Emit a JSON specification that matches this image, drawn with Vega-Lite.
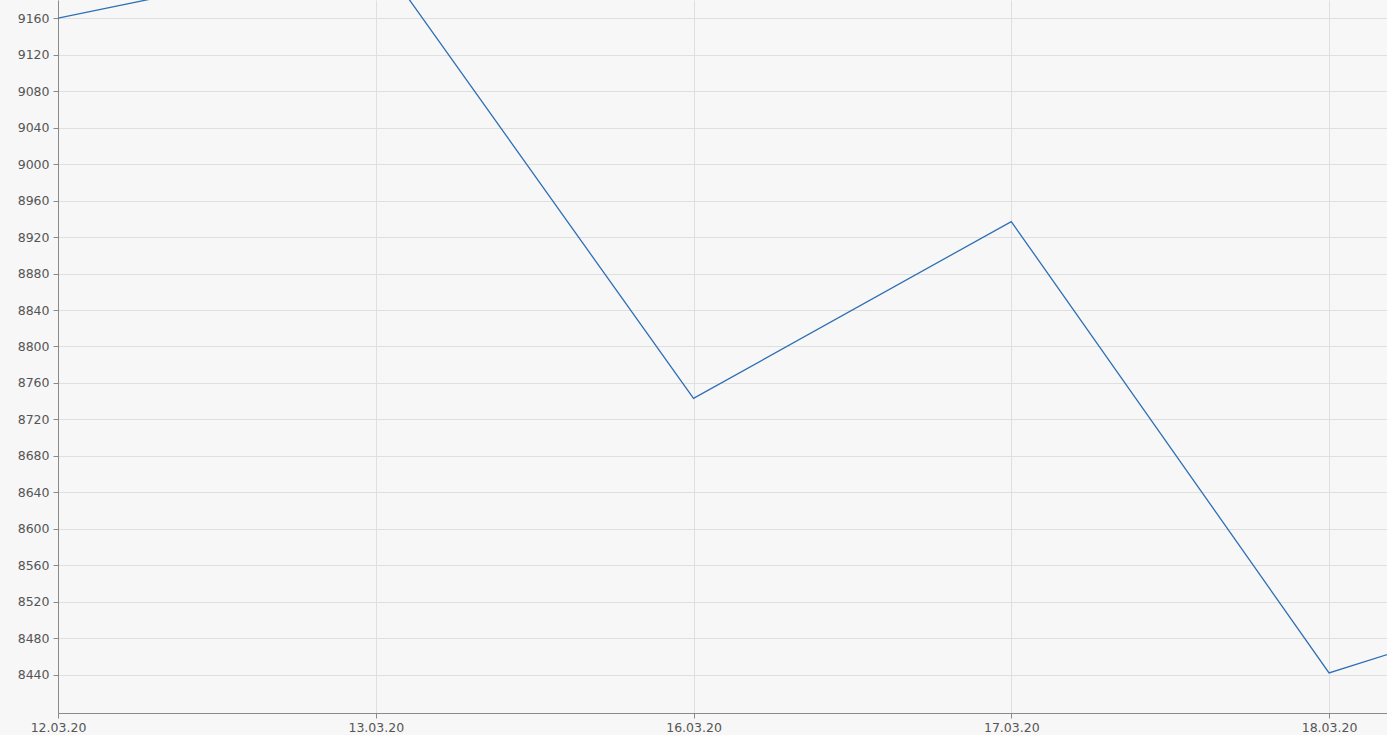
{
  "$schema": "https://vega.github.io/schema/vega-lite/v6.json",
  "width": 1329,
  "height": 713,
  "autosize": "none",
  "padding": {"left": 58, "top": 0, "right": 0, "bottom": 22},
  "background": "#f7f7f7",
  "config": {
    "view": {"stroke": null, "fill": "#f7f7f7"},
    "axis": {
      "labelFont": "DejaVu Sans",
      "labelFontSize": 12.5,
      "labelColor": "#555555",
      "domainColor": "#8a8a8a",
      "tickColor": "#8a8a8a",
      "gridColor": "#dfdfdf",
      "gridWidth": 1,
      "tickSize": 5,
      "title": null
    }
  },
  "data": {
    "values": [
      {"idx": 0, "date": "12.03.20", "value": 9160},
      {"idx": 1, "date": "13.03.20", "value": 9232},
      {"idx": 2, "date": "16.03.20", "value": 8743},
      {"idx": 3, "date": "17.03.20", "value": 8937},
      {"idx": 4, "date": "18.03.20", "value": 8442},
      {"idx": 5, "date": "19.03.20", "value": 8552}
    ]
  },
  "mark": {"type": "line", "color": "#2f6fb3", "strokeWidth": 1.3, "clip": true},
  "encoding": {
    "x": {
      "field": "idx",
      "type": "quantitative",
      "scale": {"domain": [0, 4.1824], "nice": false, "zero": false},
      "axis": {
        "values": [0, 1, 2, 3, 4],
        "labelExpr": "['12.03.20','13.03.20','16.03.20','17.03.20','18.03.20'][datum.value]",
        "labelPadding": 3,
        "labelFlush": false,
        "labelOverlap": false
      }
    },
    "y": {
      "field": "value",
      "type": "quantitative",
      "scale": {"domain": [8398, 9180], "nice": false, "zero": false},
      "axis": {
        "values": [8440, 8480, 8520, 8560, 8600, 8640, 8680, 8720, 8760, 8800, 8840, 8880, 8920, 8960, 9000, 9040, 9080, 9120, 9160],
        "format": "d",
        "labelPadding": 4,
        "labelOverlap": false,
        "labelFlush": false
      }
    }
  }
}
